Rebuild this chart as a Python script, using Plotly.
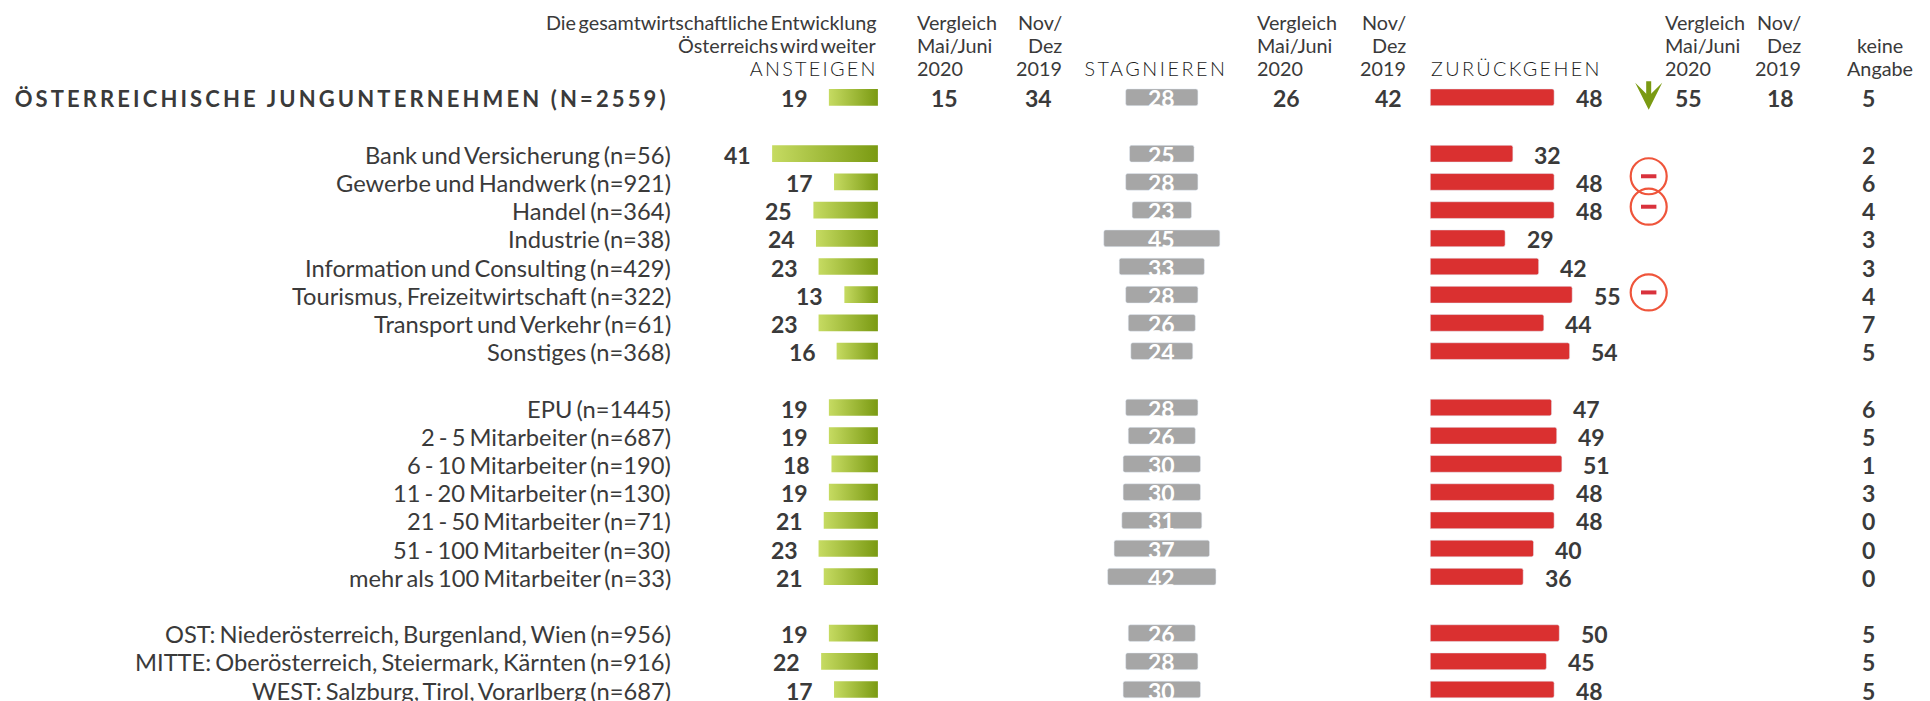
import plotly.graph_objects as go

W, H = 1930, 701
labels = ["ÖSTERREICHISCHE JUNGUNTERNEHMEN (N=2559)", None,
          "Bank und Versicherung (n=56)", "Gewerbe und Handwerk (n=921)", "Handel (n=364)", "Industrie (n=38)",
          "Information und Consulting (n=429)", "Tourismus, Freizeitwirtschaft (n=322)", "Transport und Verkehr (n=61)", "Sonstiges (n=368)", None,
          "EPU (n=1445)", "2 - 5 Mitarbeiter (n=687)", "6 - 10 Mitarbeiter (n=190)", "11 - 20 Mitarbeiter (n=130)",
          "21 - 50 Mitarbeiter (n=71)", "51 - 100 Mitarbeiter (n=30)", "mehr als 100 Mitarbeiter (n=33)", None,
          "OST: Niederösterreich, Burgenland, Wien (n=956)", "MITTE: Oberösterreich, Steiermark, Kärnten (n=916)", "WEST: Salzburg, Tirol, Vorarlberg (n=687)"]
rising = [19, None, 41, 17, 25, 24, 23, 13, 23, 16, None, 19, 19, 18, 19, 21, 23, 21, None, 19, 22, 17]
stagnant = [28, None, 25, 28, 23, 45, 33, 28, 26, 24, None, 28, 26, 30, 30, 31, 37, 42, None, 26, 28, 30]
falling = [48, None, 32, 48, 48, 29, 42, 55, 44, 54, None, 47, 49, 51, 48, 48, 40, 36, None, 50, 45, 48]
no_answer = [5, None, 2, 6, 4, 3, 3, 4, 7, 5, None, 6, 5, 1, 3, 0, 0, 0, None, 5, 5, 5]
compare_top = [15, 34, 26, 42, 55, 18]
compare_x = [944.7, 1038, 1286, 1388, 1688, 1780]
minus_rows = [2.8, 3.88, 6.92]

ROW0, ROWH, PX = 97.3, 28.2, 2.58
GREEN_R, GRAY_C, RED_L, ICON_X = 877.9, 1161.8, 1430.3, 1648.7
TXT = "#3a3a3a"
FONT = "Lato"
rows = [i for i, l in enumerate(labels) if l is not None]

def unit_range(origin, sign=1):
    a, b = (0 - origin) / PX * sign, (W - origin) / PX * sign
    return [a, b]

fig = go.Figure()
for i in rows:
    v = rising[i]
    h = 0.296
    fig.add_trace(go.Scatter(x=[0, v, v, 0, 0], y=[i - h, i - h, i + h, i + h, i - h], xaxis="x", yaxis="y",
                             mode="lines", line=dict(width=0), fill="toself", hoverinfo="skip",
                             fillgradient=dict(type="horizontal", colorscale=[[0, "#c6db62"], [1, "#7a9a12"]])))
fig.add_trace(go.Bar(y=rows, x=[stagnant[i] for i in rows], base=[-stagnant[i] / 2 for i in rows], orientation="h",
                     width=0.592, marker=dict(color="#a6a6a6"), xaxis="x2", yaxis="y"))
fig.add_trace(go.Bar(y=rows, x=[falling[i] for i in rows], orientation="h",
                     width=0.592, marker=dict(color="#da3030"), xaxis="x3", yaxis="y"))
fig.add_trace(go.Scatter(x=[0] * len(minus_rows), y=minus_rows, mode="markers", xaxis="x4", yaxis="y",
                         marker=dict(symbol="circle-open", size=36, line=dict(width=2.2, color="#cc3340"))))
fig.add_trace(go.Scatter(x=[0] * len(minus_rows), y=minus_rows, mode="markers", xaxis="x4", yaxis="y",
                         marker=dict(symbol="line-ew", size=11, line=dict(width=4, color="#d9323c"))))

ann = []
def txt(x, y, s, size=23, color=TXT, anchor="center", weight=400, yref="y", yshift=0):
    ann.append(dict(x=x / W, xref="paper", y=y if yref == "y" else 1 - y / H, yref=yref, text=s, showarrow=False,
                    xanchor=anchor, yanchor="middle", yshift=yshift, borderpad=0,
                    font=dict(family=FONT, size=size, color=color, weight=weight)))

for i in rows:
    if i == 0:
        txt(341.6, i, labels[i], size=22, weight=700, yshift=-1)
    else:
        txt(672, i, labels[i], size=23.7, weight=400, anchor="right", yshift=-1)
    ann.append(dict(x=rising[i], xref="x", y=i, yref="y", text=str(rising[i]), showarrow=False, xanchor="center", yanchor="middle",
                    xshift=-34.5, yshift=-1, font=dict(family=FONT, size=23, color=TXT, weight=700)))
    ann.append(dict(x=0, xref="x2", y=i, yref="y", text=str(stagnant[i]), showarrow=False, xanchor="center", yanchor="middle",
                    yshift=-1, font=dict(family=FONT, size=23, color="white", weight=700)))
    ann.append(dict(x=falling[i], xref="x3", y=i, yref="y", text=str(falling[i]), showarrow=False, xanchor="center", yanchor="middle",
                    xshift=35, yshift=-1, font=dict(family=FONT, size=23, color=TXT, weight=700)))
    txt(1868, i, str(no_answer[i]), weight=700, yshift=-1)
for x, v in zip(compare_x, compare_top):
    txt(x, 0, str(v), weight=700, yshift=-1)

HS, L1, L2, L3 = 19.8, 21.7, 45, 68.3
txt(878, L1, "Die gesamtwirtschaftliche Entwicklung", HS, anchor="right", weight=400, yref="paper")
txt(878, L2, "Österreichs wird weiter", HS, anchor="right", weight=400, yref="paper")
txt(813.7, L3, "ANSTEIGEN", HS, weight=300, color="#1c1c1c", yref="paper")
txt(1155.9, L3, "STAGNIEREN", HS, weight=300, color="#1c1c1c", yref="paper")
txt(1516, L3, "ZURÜCKGEHEN", HS, weight=300, color="#1c1c1c", yref="paper")
for vx, nx in [(916.4, 1063), (1255.5, 1406.6), (1663.5, 1802)]:
    for y, s in [(L1, "Vergleich"), (L2, "Mai/Juni"), (L3, "2020")]:
        txt(vx, y, s, HS, anchor="left", weight=400, yref="paper")
    for y, s in [(L1, "Nov/"), (L2, "Dez"), (L3, "2019")]:
        txt(nx, y, s, HS, anchor="right", weight=400, yref="paper")
txt(1880, L2, "keine", HS, weight=400, yref="paper")
txt(1880, L3, "Angabe", HS, weight=400, yref="paper")

ann.append(dict(x=0, xref="x4", y=0.44, yref="y", ax=0, ay=-30, text="", showarrow=True, arrowhead=3, arrowsize=0.9,
                arrowwidth=5, arrowcolor="#7a9a12"))

hidden = dict(visible=False, fixedrange=True)
fig.update_layout(
    width=W, height=H, autosize=False, margin=dict(l=0, r=0, t=0, b=0), showlegend=False, barmode="overlay",
    barcornerradius=2, paper_bgcolor="white", plot_bgcolor="white", annotations=ann,
    yaxis=dict(range=[(H - ROW0) / ROWH, -ROW0 / ROWH], **hidden),
    xaxis=dict(range=unit_range(GREEN_R, -1), **hidden),
    xaxis2=dict(range=unit_range(GRAY_C), overlaying="x", **hidden),
    xaxis3=dict(range=unit_range(RED_L), overlaying="x", **hidden),
    xaxis4=dict(range=unit_range(ICON_X), overlaying="x", **hidden),
)

post = """
document.body.style.margin='0';
document.body.style.overflow='hidden';
function styleTexts(){
 var fit={'ÖSTERREICHISCHE JUNGUNTERNEHMEN (N=2559)':654,'ANSTEIGEN':128,'STAGNIEREN':143,'ZURÜCKGEHEN':171};
 document.querySelectorAll('.annotation-text').forEach(function(t){
   var s=t.textContent;
   if(fit[s]){
     t.style.letterSpacing='0px';
     var w=t.getComputedTextLength();
     t.style.letterSpacing=((fit[s]-w)/s.length)+'px';
   } else if(s.indexOf(' ')>0){
     var fs=parseFloat(t.style.fontSize)||20;
     var a=t.getAttribute('data-x0')||t.getAttribute('x');
     t.setAttribute('data-x0',a);
     t.style.wordSpacing='0px';
     var w0=t.getComputedTextLength();
     t.style.wordSpacing=(fs>22?'-2px':'-2.5px');
     var w1=t.getComputedTextLength();
     t.setAttribute('x',parseFloat(a)+(w0-w1)/2);
   }
 });
}
document.fonts.ready.then(styleTexts);
setTimeout(styleTexts,0);
"""
fig.write_html("out.html", post_script=post, config=dict(displayModeBar=False))
